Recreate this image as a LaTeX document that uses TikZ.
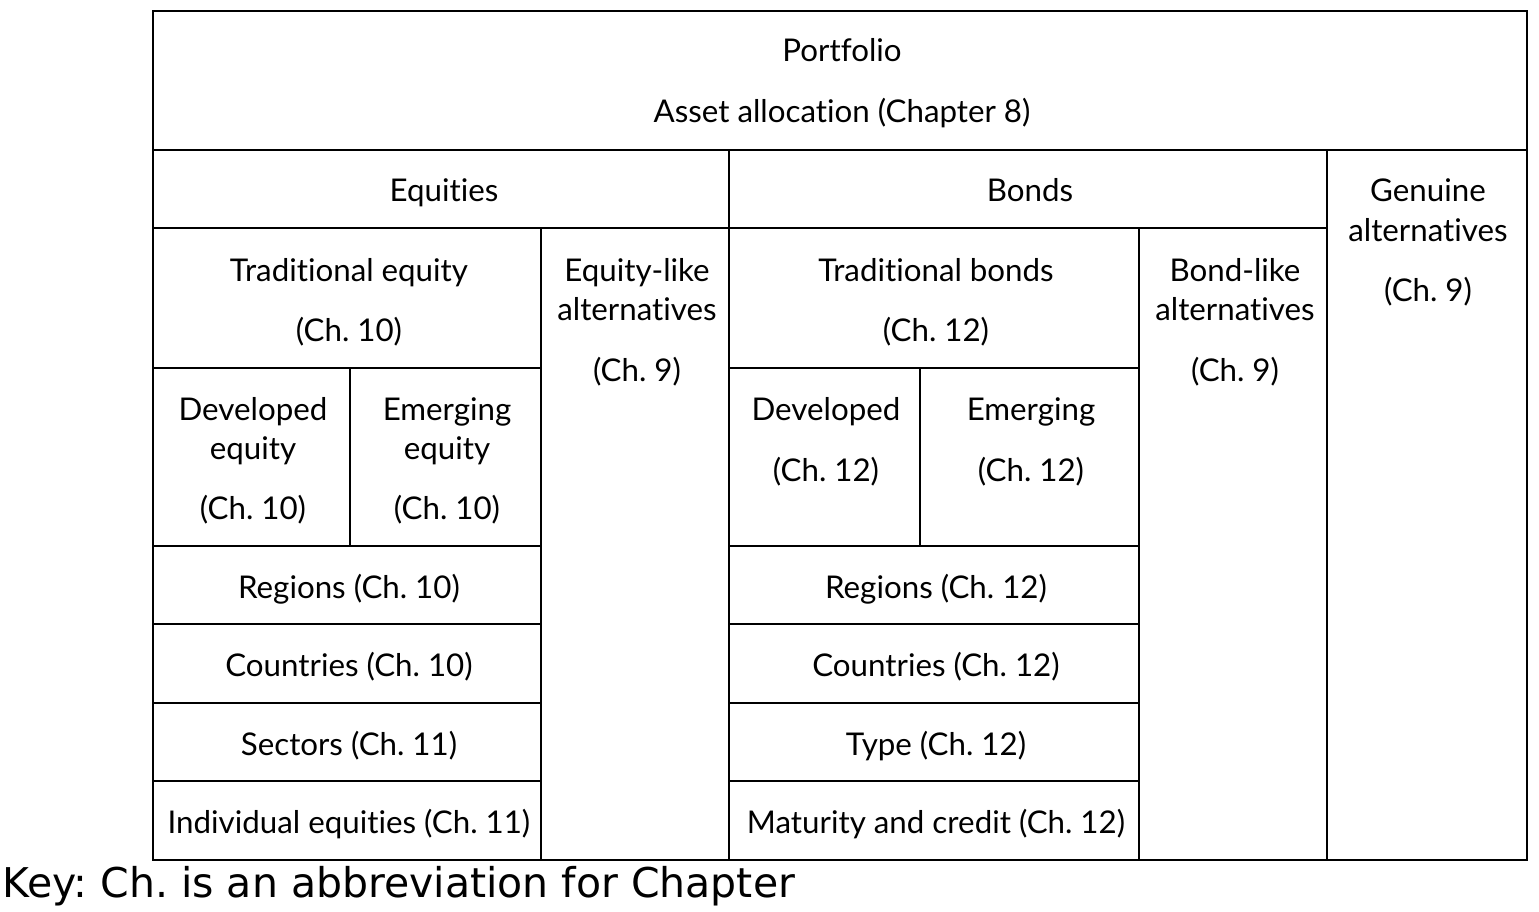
\documentclass[tikz,border=0pt]{standalone}
\usepackage{fontspec}
\setmainfont[Ligatures={NoCommon}]{Lato}
\newfontfamily\keyfont{DejaVu Sans}
\frenchspacing
\begin{document}
\begin{tikzpicture}[x=1pt,y=-1pt,
  cell/.style={draw=black,line width=1.8pt},
  lbl/.style={anchor=base,inner sep=0pt,font=\fontsize{31.3}{38}\selectfont}]
\useasboundingbox (0,0) rectangle (1539,912);
\fill[white] (0,0) rectangle (1539,912);

% top level
\draw[cell] (153,11) rectangle (1527,150);
\draw[cell] (153,150) rectangle (729,228);
\draw[cell] (729,150) rectangle (1327,228);
\draw[cell] (1327,150) rectangle (1527,860);

% equity branch
\draw[cell] (153,228) rectangle (541,368);
\draw[cell] (541,228) rectangle (729,860);
\draw[cell] (153,368) rectangle (350,546);
\draw[cell] (350,368) rectangle (541,546);
\draw[cell] (153,546) rectangle (541,624);
\draw[cell] (153,624) rectangle (541,703);
\draw[cell] (153,703) rectangle (541,781);
\draw[cell] (153,781) rectangle (541,860);

% bond branch
\draw[cell] (729,228) rectangle (1139,368);
\draw[cell] (1139,228) rectangle (1327,860);
\draw[cell] (729,368) rectangle (920,546);
\draw[cell] (920,368) rectangle (1139,546);
\draw[cell] (729,546) rectangle (1139,624);
\draw[cell] (729,624) rectangle (1139,703);
\draw[cell] (729,703) rectangle (1139,781);
\draw[cell] (729,781) rectangle (1139,860);

% labels
\node[lbl] (portfolio) at (842,62) {Portfolio};
\node[lbl] (alloc) at (842,123) {Asset allocation (Chapter 8)};
\node[lbl] (equities) at (444,202) {Equities};
\node[lbl] (bonds) at (1030,202) {Bonds};
\node[lbl] (genA) at (1428,202) {Genuine};
\node[lbl] (genB) at (1428,241) {alternatives};
\node[lbl] (genC) at (1428,301) {(Ch. 9)};

\node[lbl] (tradeqA) at (349,281) {Traditional equity};
\node[lbl] (tradeqB) at (349,341) {(Ch. 10)};
\node[lbl] (eqlikeA) at (637,281) {Equity-like};
\node[lbl] (eqlikeB) at (637,320) {alternatives};
\node[lbl] (eqlikeC) at (637,381) {(Ch. 9)};
\node[lbl] (deveqA) at (253,420) {Developed};
\node[lbl] (deveqB) at (253,459) {equity};
\node[lbl] (deveqC) at (253,519) {(Ch. 10)};
\node[lbl] (emeqA) at (447,420) {Emerging};
\node[lbl] (emeqB) at (447,459) {equity};
\node[lbl] (emeqC) at (447,519) {(Ch. 10)};
\node[lbl] (regeq) at (349,598) {Regions (Ch. 10)};
\node[lbl] (coueq) at (349,676) {Countries (Ch. 10)};
\node[lbl] (seceq) at (349,755) {Sectors (Ch. 11)};
\node[lbl] (indeq) at (349,833) {Individual equities (Ch. 11)};

\node[lbl] (tradbdA) at (936,281) {Traditional bonds};
\node[lbl] (tradbdB) at (936,341) {(Ch. 12)};
\node[lbl] (bdlikeA) at (1235,281) {Bond-like};
\node[lbl] (bdlikeB) at (1235,320) {alternatives};
\node[lbl] (bdlikeC) at (1235,381) {(Ch. 9)};
\node[lbl] (devbdA) at (826,420) {Developed};
\node[lbl] (devbdB) at (826,481) {(Ch. 12)};
\node[lbl] (embdA) at (1031,420) {Emerging};
\node[lbl] (embdB) at (1031,481) {(Ch. 12)};
\node[lbl] (regbd) at (936,598) {Regions (Ch. 12)};
\node[lbl] (coubd) at (936,676) {Countries (Ch. 12)};
\node[lbl] (typbd) at (936,755) {Type (Ch. 12)};
\node[lbl] (matbd) at (936,833) {Maturity and credit (Ch. 12)};

\node[anchor=base west,inner sep=0pt,font=\keyfont\fontsize{41}{48}\selectfont] (key) at (2,897) {Key: Ch. is an abbreviation for Chapter};
\end{tikzpicture}
\end{document}
